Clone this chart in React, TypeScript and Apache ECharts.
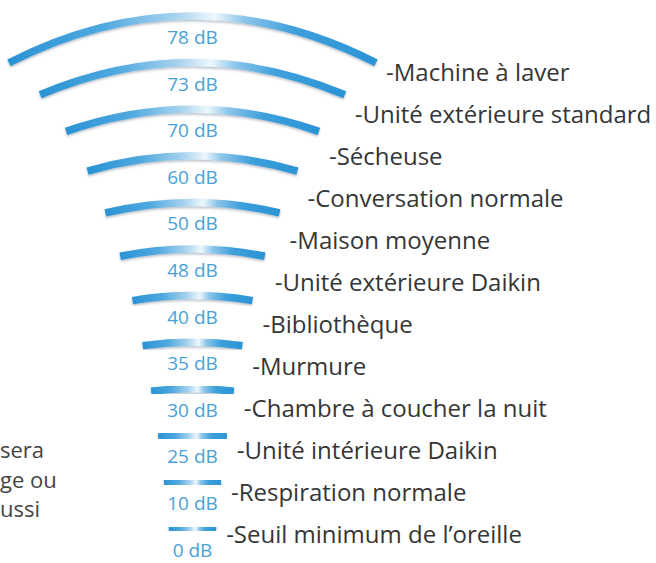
import React, { useEffect, useRef } from "react";
import * as echarts from "echarts";

// ---- data ----
const dbValues = [78, 73, 70, 60, 50, 48, 40, 35, 30, 25, 10, 0];
const sources = [
  "Machine à laver",
  "Unité extérieure standard",
  "Sécheuse",
  "Conversation normale",
  "Maison moyenne",
  "Unité extérieure Daikin",
  "Bibliothèque",
  "Murmure",
  "Chambre à coucher la nuit",
  "Unité intérieure Daikin",
  "Respiration normale",
  "Seuil minimum de l’oreille",
];
const sideTextLines = ["sera", "ge ou", "ussi"];

// ---- layout (pixel units of the hidden axes) ----
const CENTER_X = 192.5;
const ARC_TOP0 = 16;
const ARC_STEP = 46.6;
const DB_OFFSET = 21;
const LABEL_Y0 = 71;
const LABEL_STEP = 42;
const W0 = 367;
const SHRINK = 0.83;
const RADIUS = 360;
const FONT = "'Open Sans', 'Noto Sans', sans-serif";

export default function App() {
  const ref = useRef<HTMLDivElement>(null);

  useEffect(() => {
    if (!ref.current) return;
    document.body.style.margin = "0";
    const chart = echarts.init(ref.current, null, { renderer: "svg" });

    const data = dbValues.map((v, i) => [i, v]);

    const renderItem = (params: any, api: any) => {
      const i = api.value(0);
      const idx = params.dataIndex;
      const w = W0 * Math.pow(SHRINK, i);
      const sag = (w * w) / (8 * RADIUS);
      const top = ARC_TOP0 + ARC_STEP * i;
      const [cx, ty] = api.coord([CENTER_X, top]);
      const [lx, ly] = api.coord([CENTER_X + w / 2 + 10, LABEL_Y0 + LABEL_STEP * i]);
      const [, dy] = api.coord([CENTER_X, top + DB_OFFSET]);
      const grad = new echarts.graphic.LinearGradient(0, 0, 1, 0, [
        { offset: 0, color: "#2a93d4" },
        { offset: 0.25, color: "#4ea8df" },
        { offset: 0.45, color: "#a6d2ee" },
        { offset: 0.56, color: "#eef7fd" },
        { offset: 0.64, color: "#8cc6ea" },
        { offset: 0.78, color: "#3d9fdb" },
        { offset: 1, color: "#2b94d5" },
      ]);
      return {
        type: "group",
        children: [
          {
            type: "bezierCurve",
            shape: {
              x1: cx - w / 2,
              y1: ty + sag,
              x2: cx + w / 2,
              y2: ty + sag,
              cpx1: cx,
              cpy1: ty - sag,
            },
            style: {
              stroke: grad,
              fill: "none",
              lineWidth: 7.5,
              lineCap: "butt",
              shadowColor: "rgba(40,60,90,0.35)",
              shadowBlur: 2,
              shadowOffsetY: 1.5,
            },
          },
          {
            type: "text",
            style: {
              text: `${dbValues[idx]} dB`,
              x: cx,
              y: dy,
              fill: "#4a9fd8",
              fontSize: 19,
              lineHeight: 18,
              fontFamily: FONT,
              align: "center",
              verticalAlign: "middle",
            },
          },
          {
            type: "text",
            style: {
              text: `-${sources[idx]}`,
              x: lx,
              y: ly,
              fill: "#363636",
              fontSize: 24,
              lineHeight: 28,
              fontFamily: FONT,
              align: "left",
              verticalAlign: "middle",
            },
          },
        ],
      };
    };

    chart.setOption({
      animation: false,
      backgroundColor: "#ffffff",
      grid: { left: 0, right: 0, top: 0, bottom: 0, containLabel: false },
      xAxis: { type: "value", min: 0, max: 656, show: false },
      yAxis: { type: "value", min: 0, max: 563, inverse: true, show: false },
      graphic: sideTextLines.map((t, k) => ({
        type: "text",
        x: 0,
        y: 449 + 29.5 * k,
        style: {
          text: t,
          fill: "#454545",
          fontSize: 22,
          lineHeight: 24,
          fontFamily: FONT,
          verticalAlign: "middle",
        },
      })),
      series: [
        {
          type: "custom",
          coordinateSystem: "cartesian2d",
          clip: false,
          renderItem,
          data,
        },
      ],
    });

    return () => chart.dispose();
  }, []);

  return (
    <div
      ref={ref}
      style={{ position: "absolute", left: 0, top: 0, width: 656, height: 563 }}
    />
  );
}
